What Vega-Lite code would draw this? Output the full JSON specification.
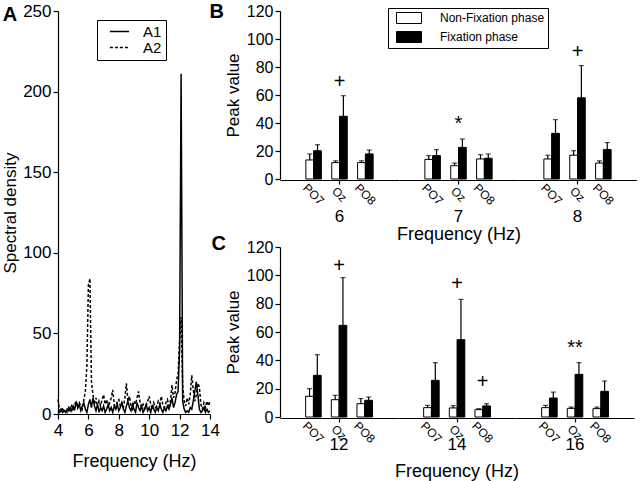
{
  "$schema": "https://vega.github.io/schema/vega-lite/v6.json",
  "padding": {"top": 2, "left": 1, "right": 0, "bottom": 0},
  "autosize": {"type": "pad"},
  "background": "white",
  "config": {
    "font": "Liberation Sans",
    "view": {"stroke": null},
    "axis": {"domainColor": "black", "tickColor": "black", "labelColor": "black", "titleColor": "black", "grid": false, "titleFontWeight": "normal", "domainWidth": 1.2, "tickWidth": 1.2, "labelFont": "Liberation Sans", "titleFont": "Liberation Sans", "labelOverlap": false},
    "legend": {"labelFont": "Liberation Sans", "labelColor": "black"},
    "title": {"font": "Liberation Sans", "color": "black"},
    "concat": {"spacing": 0}
  },
  "datasets": {
    "lineA": [
      {"f":4.0,"s":"A1","v":2},{"f":4.1,"s":"A1","v":1},{"f":4.2,"s":"A1","v":3},{"f":4.3,"s":"A1","v":1},{"f":4.4,"s":"A1","v":2},{"f":4.5,"s":"A1","v":1},{"f":4.6,"s":"A1","v":3},{"f":4.7,"s":"A1","v":2},{"f":4.8,"s":"A1","v":4},{"f":4.9,"s":"A1","v":2},
      {"f":5.0,"s":"A1","v":5},{"f":5.1,"s":"A1","v":3},{"f":5.2,"s":"A1","v":7},{"f":5.3,"s":"A1","v":4},{"f":5.4,"s":"A1","v":6},{"f":5.5,"s":"A1","v":2},{"f":5.6,"s":"A1","v":5},{"f":5.7,"s":"A1","v":7},{"f":5.8,"s":"A1","v":3},{"f":5.9,"s":"A1","v":1},
      {"f":6.0,"s":"A1","v":6},{"f":6.1,"s":"A1","v":9},{"f":6.2,"s":"A1","v":4},{"f":6.3,"s":"A1","v":10},{"f":6.4,"s":"A1","v":5},{"f":6.5,"s":"A1","v":2},{"f":6.6,"s":"A1","v":6},{"f":6.7,"s":"A1","v":1},{"f":6.8,"s":"A1","v":4},{"f":6.9,"s":"A1","v":2},
      {"f":7.0,"s":"A1","v":5},{"f":7.1,"s":"A1","v":1},{"f":7.2,"s":"A1","v":3},{"f":7.3,"s":"A1","v":6},{"f":7.4,"s":"A1","v":2},{"f":7.5,"s":"A1","v":4},{"f":7.6,"s":"A1","v":1},{"f":7.7,"s":"A1","v":5},{"f":7.8,"s":"A1","v":3},{"f":7.9,"s":"A1","v":6},
      {"f":8.0,"s":"A1","v":2},{"f":8.1,"s":"A1","v":4},{"f":8.2,"s":"A1","v":7},{"f":8.3,"s":"A1","v":3},{"f":8.4,"s":"A1","v":1},{"f":8.5,"s":"A1","v":5},{"f":8.6,"s":"A1","v":8},{"f":8.7,"s":"A1","v":4},{"f":8.8,"s":"A1","v":2},{"f":8.9,"s":"A1","v":6},
      {"f":9.0,"s":"A1","v":3},{"f":9.1,"s":"A1","v":1},{"f":9.2,"s":"A1","v":7},{"f":9.3,"s":"A1","v":4},{"f":9.4,"s":"A1","v":2},{"f":9.5,"s":"A1","v":5},{"f":9.6,"s":"A1","v":1},{"f":9.7,"s":"A1","v":3},{"f":9.8,"s":"A1","v":6},{"f":9.9,"s":"A1","v":2},
      {"f":10.0,"s":"A1","v":4},{"f":10.1,"s":"A1","v":1},{"f":10.2,"s":"A1","v":5},{"f":10.3,"s":"A1","v":3},{"f":10.4,"s":"A1","v":1},{"f":10.5,"s":"A1","v":4},{"f":10.6,"s":"A1","v":2},{"f":10.7,"s":"A1","v":6},{"f":10.8,"s":"A1","v":3},{"f":10.9,"s":"A1","v":1},
      {"f":11.0,"s":"A1","v":4},{"f":11.1,"s":"A1","v":2},{"f":11.2,"s":"A1","v":5},{"f":11.3,"s":"A1","v":3},{"f":11.4,"s":"A1","v":6},{"f":11.5,"s":"A1","v":10},{"f":11.6,"s":"A1","v":4},{"f":11.7,"s":"A1","v":7},{"f":11.8,"s":"A1","v":12},{"f":11.9,"s":"A1","v":14},
      {"f":12.0,"s":"A1","v":40},{"f":12.1,"s":"A1","v":211},{"f":12.2,"s":"A1","v":8},{"f":12.3,"s":"A1","v":3},{"f":12.4,"s":"A1","v":1},{"f":12.5,"s":"A1","v":2},{"f":12.6,"s":"A1","v":1},{"f":12.7,"s":"A1","v":4},{"f":12.8,"s":"A1","v":3},{"f":12.9,"s":"A1","v":8},
      {"f":13.0,"s":"A1","v":14},{"f":13.1,"s":"A1","v":20},{"f":13.2,"s":"A1","v":12},{"f":13.3,"s":"A1","v":3},{"f":13.4,"s":"A1","v":1},{"f":13.5,"s":"A1","v":2},{"f":13.6,"s":"A1","v":4},{"f":13.7,"s":"A1","v":1},{"f":13.8,"s":"A1","v":3},{"f":13.9,"s":"A1","v":1},
      {"f":14.0,"s":"A1","v":2},
      {"f":4.0,"s":"A2","v":9},{"f":4.1,"s":"A2","v":3},{"f":4.2,"s":"A2","v":1},{"f":4.3,"s":"A2","v":4},{"f":4.4,"s":"A2","v":2},{"f":4.5,"s":"A2","v":3},{"f":4.6,"s":"A2","v":1},{"f":4.7,"s":"A2","v":4},{"f":4.8,"s":"A2","v":2},{"f":4.9,"s":"A2","v":5},
      {"f":5.0,"s":"A2","v":3},{"f":5.1,"s":"A2","v":6},{"f":5.2,"s":"A2","v":8},{"f":5.3,"s":"A2","v":4},{"f":5.4,"s":"A2","v":7},{"f":5.5,"s":"A2","v":5},{"f":5.6,"s":"A2","v":3},{"f":5.7,"s":"A2","v":9},{"f":5.8,"s":"A2","v":14},{"f":5.9,"s":"A2","v":30},
      {"f":6.0,"s":"A2","v":80},{"f":6.1,"s":"A2","v":84},{"f":6.2,"s":"A2","v":20},{"f":6.3,"s":"A2","v":12},{"f":6.4,"s":"A2","v":6},{"f":6.5,"s":"A2","v":10},{"f":6.6,"s":"A2","v":4},{"f":6.7,"s":"A2","v":8},{"f":6.8,"s":"A2","v":5},{"f":6.9,"s":"A2","v":9},
      {"f":7.0,"s":"A2","v":12},{"f":7.1,"s":"A2","v":6},{"f":7.2,"s":"A2","v":9},{"f":7.3,"s":"A2","v":4},{"f":7.4,"s":"A2","v":7},{"f":7.5,"s":"A2","v":10},{"f":7.6,"s":"A2","v":15},{"f":7.7,"s":"A2","v":6},{"f":7.8,"s":"A2","v":3},{"f":7.9,"s":"A2","v":8},
      {"f":8.0,"s":"A2","v":9},{"f":8.1,"s":"A2","v":5},{"f":8.2,"s":"A2","v":7},{"f":8.3,"s":"A2","v":4},{"f":8.4,"s":"A2","v":10},{"f":8.5,"s":"A2","v":19},{"f":8.6,"s":"A2","v":8},{"f":8.7,"s":"A2","v":11},{"f":8.8,"s":"A2","v":5},{"f":8.9,"s":"A2","v":3},
      {"f":9.0,"s":"A2","v":8},{"f":9.1,"s":"A2","v":6},{"f":9.2,"s":"A2","v":10},{"f":9.3,"s":"A2","v":14},{"f":9.4,"s":"A2","v":7},{"f":9.5,"s":"A2","v":4},{"f":9.6,"s":"A2","v":6},{"f":9.7,"s":"A2","v":3},{"f":9.8,"s":"A2","v":5},{"f":9.9,"s":"A2","v":8},
      {"f":10.0,"s":"A2","v":11},{"f":10.1,"s":"A2","v":6},{"f":10.2,"s":"A2","v":3},{"f":10.3,"s":"A2","v":7},{"f":10.4,"s":"A2","v":4},{"f":10.5,"s":"A2","v":5},{"f":10.6,"s":"A2","v":8},{"f":10.7,"s":"A2","v":6},{"f":10.8,"s":"A2","v":11},{"f":10.9,"s":"A2","v":5},
      {"f":11.0,"s":"A2","v":4},{"f":11.1,"s":"A2","v":7},{"f":11.2,"s":"A2","v":9},{"f":11.3,"s":"A2","v":5},{"f":11.4,"s":"A2","v":8},{"f":11.5,"s":"A2","v":18},{"f":11.6,"s":"A2","v":10},{"f":11.7,"s":"A2","v":13},{"f":11.8,"s":"A2","v":21},{"f":11.9,"s":"A2","v":25},
      {"f":12.0,"s":"A2","v":45},{"f":12.1,"s":"A2","v":60},{"f":12.2,"s":"A2","v":18},{"f":12.3,"s":"A2","v":8},{"f":12.4,"s":"A2","v":5},{"f":12.5,"s":"A2","v":10},{"f":12.6,"s":"A2","v":6},{"f":12.7,"s":"A2","v":12},{"f":12.8,"s":"A2","v":24},{"f":12.9,"s":"A2","v":15},
      {"f":13.0,"s":"A2","v":8},{"f":13.1,"s":"A2","v":12},{"f":13.2,"s":"A2","v":19},{"f":13.3,"s":"A2","v":17},{"f":13.4,"s":"A2","v":6},{"f":13.5,"s":"A2","v":3},{"f":13.6,"s":"A2","v":7},{"f":13.7,"s":"A2","v":4},{"f":13.8,"s":"A2","v":8},{"f":13.9,"s":"A2","v":5},
      {"f":14.0,"s":"A2","v":8}
    ],
    "peakB": [
      {"freq":6,"electrode":"PO7","phase":"Non-Fixation phase","value":13.6,"upper":17.9},
      {"freq":6,"electrode":"PO7","phase":"Fixation phase","value":20.2,"upper":24.5},
      {"freq":6,"electrode":"Oz","phase":"Non-Fixation phase","value":11.7,"upper":13},
      {"freq":6,"electrode":"Oz","phase":"Fixation phase","value":44.8,"upper":59.5,"sig":"+","sigY":69},
      {"freq":6,"electrode":"PO8","phase":"Non-Fixation phase","value":11.7,"upper":13},
      {"freq":6,"electrode":"PO8","phase":"Fixation phase","value":17.9,"upper":20.7},
      {"freq":7,"electrode":"PO7","phase":"Non-Fixation phase","value":14,"upper":16.7},
      {"freq":7,"electrode":"PO7","phase":"Fixation phase","value":16.7,"upper":21},
      {"freq":7,"electrode":"Oz","phase":"Non-Fixation phase","value":9.5,"upper":11.4},
      {"freq":7,"electrode":"Oz","phase":"Fixation phase","value":22.6,"upper":28.6,"sig":"*","sigY":39},
      {"freq":7,"electrode":"PO8","phase":"Non-Fixation phase","value":14.3,"upper":17.4},
      {"freq":7,"electrode":"PO8","phase":"Fixation phase","value":14.8,"upper":17.9},
      {"freq":8,"electrode":"PO7","phase":"Non-Fixation phase","value":14.3,"upper":17},
      {"freq":8,"electrode":"PO7","phase":"Fixation phase","value":32.6,"upper":42.4},
      {"freq":8,"electrode":"Oz","phase":"Non-Fixation phase","value":17,"upper":20.2},
      {"freq":8,"electrode":"Oz","phase":"Fixation phase","value":58,"upper":81,"sig":"+","sigY":90.5},
      {"freq":8,"electrode":"PO8","phase":"Non-Fixation phase","value":11.4,"upper":13},
      {"freq":8,"electrode":"PO8","phase":"Fixation phase","value":21,"upper":26}
    ],
    "peakC": [
      {"freq":12,"electrode":"PO7","phase":"Non-Fixation phase","value":14.6,"upper":20},
      {"freq":12,"electrode":"PO7","phase":"Fixation phase","value":29.4,"upper":44},
      {"freq":12,"electrode":"Oz","phase":"Non-Fixation phase","value":12.2,"upper":15.3},
      {"freq":12,"electrode":"Oz","phase":"Fixation phase","value":64.7,"upper":98.4,"sig":"+","sigY":106.6},
      {"freq":12,"electrode":"PO8","phase":"Non-Fixation phase","value":9.4,"upper":13},
      {"freq":12,"electrode":"PO8","phase":"Fixation phase","value":11.8,"upper":14.1},
      {"freq":14,"electrode":"PO7","phase":"Non-Fixation phase","value":6.6,"upper":8.2},
      {"freq":14,"electrode":"PO7","phase":"Fixation phase","value":25.9,"upper":38.4},
      {"freq":14,"electrode":"Oz","phase":"Non-Fixation phase","value":6.4,"upper":8},
      {"freq":14,"electrode":"Oz","phase":"Fixation phase","value":54.6,"upper":83,"sig":"+","sigY":94},
      {"freq":14,"electrode":"PO8","phase":"Non-Fixation phase","value":5.2,"upper":5.9},
      {"freq":14,"electrode":"PO8","phase":"Fixation phase","value":7.8,"upper":9.4,"sig":"+","sigY":24.7},
      {"freq":16,"electrode":"PO7","phase":"Non-Fixation phase","value":6.6,"upper":8.2},
      {"freq":16,"electrode":"PO7","phase":"Fixation phase","value":13.4,"upper":17.6},
      {"freq":16,"electrode":"Oz","phase":"Non-Fixation phase","value":6.1,"upper":7},
      {"freq":16,"electrode":"Oz","phase":"Fixation phase","value":30.1,"upper":38.4,"sig":"**","sigY":48.5},
      {"freq":16,"electrode":"PO8","phase":"Non-Fixation phase","value":5.9,"upper":7},
      {"freq":16,"electrode":"PO8","phase":"Fixation phase","value":18.1,"upper":25.4}
    ]
  },
  "hconcat": [
    {
      "data": {"name": "lineA"},
      "width": 152,
      "height": 403,
      "title": {"text": "A", "orient": "left", "anchor": "end", "frame": "group", "angle": 0, "align": "right", "baseline": "alphabetic", "fontSize": 20, "fontWeight": "bold", "offset": -30, "dy": 10},
      "mark": {"type": "line", "color": "black", "strokeWidth": 1.5},
      "encoding": {
        "x": {"field": "f", "type": "quantitative", "scale": {"domain": [4, 14]}, "axis": {"values": [4, 6, 8, 10, 12, 14], "title": "Frequency (Hz)", "labelFontSize": 17, "titleFontSize": 18, "tickSize": 5, "labelPadding": 3, "titlePadding": 14, "labelFlush": false}},
        "y": {"field": "v", "type": "quantitative", "scale": {"domain": [0, 250]}, "axis": {"values": [0, 50, 100, 150, 200, 250], "title": "Spectral density", "labelFontSize": 17, "titleFontSize": 17, "tickSize": 5, "labelPadding": 2, "titlePadding": 3}},
        "strokeDash": {"field": "s", "type": "nominal", "scale": {"domain": ["A1", "A2"], "range": [[1, 0], [3, 2]]},
          "legend": {"title": null, "orient": "none", "legendX": 39, "legendY": 9, "strokeColor": "black", "padding": 4, "labelFontSize": 15, "symbolType": "M-1.6,0H1.6", "symbolSize": 144, "symbolStrokeColor": "black", "symbolStrokeWidth": 1.5, "symbolOffset": 11, "rowPadding": 0, "labelOffset": 16}}
      }
    },
    {
      "vconcat": [
        {
          "data": {"name": "peakB"},
          "title": {"text": "B", "orient": "left", "anchor": "end", "frame": "group", "angle": 0, "align": "right", "baseline": "alphabetic", "fontSize": 20, "fontWeight": "bold", "offset": -14, "dy": 7},
          "facet": {"column": {"field": "freq", "type": "ordinal", "sort": [6, 7, 8], "title": "Frequency (Hz)",
            "header": {"labelOrient": "bottom", "titleOrient": "bottom", "labelFontSize": 17, "titleFontSize": 18, "titleFontWeight": "normal", "labelColor": "black", "titleColor": "black", "labelPadding": 2, "titlePadding": -9}}},
          "spacing": 0,
          "spec": {
            "width": 119,
            "height": 168,
            "encoding": {
              "x": {"field": "electrode", "type": "nominal", "sort": ["PO7", "Oz", "PO8"], "scale": {"paddingInner": 0.4, "paddingOuter": 1.2},
                "axis": {"title": null, "labelAngle": 45, "labelAlign": "center", "labelBaseline": "middle", "labelFontSize": 12, "labelPadding": 10, "tickSize": 4, "tickColor": {"condition": {"test": "datum.value === 'Oz'", "value": "black"}, "value": "transparent"}}}
            },
            "layer": [
              {
                "mark": {"type": "bar", "stroke": "black", "strokeWidth": 1},
                "encoding": {
                  "xOffset": {"field": "phase", "type": "nominal", "sort": ["Non-Fixation phase", "Fixation phase"]},
                  "y": {"field": "value", "type": "quantitative", "scale": {"domain": [0, 120]}, "axis": {"values": [0, 20, 40, 60, 80, 100, 120], "title": "Peak value", "labelFontSize": 16, "titleFontSize": 17, "tickSize": 5, "labelPadding": 2, "titlePadding": 4, "labelOverlap": false}},
                  "fill": {"field": "phase", "type": "nominal", "scale": {"domain": ["Non-Fixation phase", "Fixation phase"], "range": ["white", "black"]},
                    "legend": {"title": null, "orient": "none", "legendX": 108, "legendY": -3, "strokeColor": "black", "padding": 3, "labelFontSize": 12, "symbolType": "M-2,-0.88H2V0.88H-2Z", "symbolSize": 156, "symbolStrokeColor": "black", "symbolStrokeWidth": 1, "symbolOffset": 11, "rowPadding": 3, "labelOffset": 24}}
                }
              },
              {
                "mark": {"type": "rule", "color": "black", "strokeWidth": 1.2},
                "encoding": {
                  "xOffset": {"field": "phase", "type": "nominal", "sort": ["Non-Fixation phase", "Fixation phase"]},
                  "y": {"field": "value", "type": "quantitative", "scale": {"domain": [0, 120]}, "axis": {"values": [0, 20, 40, 60, 80, 100, 120], "title": "Peak value", "labelFontSize": 16, "titleFontSize": 17, "tickSize": 5, "labelPadding": 2, "titlePadding": 4, "labelOverlap": false}},
                  "y2": {"field": "upper"}
                }
              },
              {
                "mark": {"type": "tick", "orient": "horizontal", "color": "black", "size": 5, "thickness": 1.2},
                "encoding": {
                  "xOffset": {"field": "phase", "type": "nominal", "sort": ["Non-Fixation phase", "Fixation phase"]},
                  "y": {"field": "upper", "type": "quantitative", "scale": {"domain": [0, 120]}, "axis": {"values": [0, 20, 40, 60, 80, 100, 120], "title": "Peak value", "labelFontSize": 16, "titleFontSize": 17, "tickSize": 5, "labelPadding": 2, "titlePadding": 4, "labelOverlap": false}}
                }
              },
              {
                "transform": [{"filter": "isValid(datum.sig)"}],
                "mark": {"type": "text", "fontSize": 20, "color": "black", "baseline": "middle", "font": "Liberation Sans"},
                "encoding": {
                  "y": {"field": "sigY", "type": "quantitative", "scale": {"domain": [0, 120]}, "axis": {"values": [0, 20, 40, 60, 80, 100, 120], "title": "Peak value", "labelFontSize": 16, "titleFontSize": 17, "tickSize": 5, "labelPadding": 2, "titlePadding": 4, "labelOverlap": false}},
                  "text": {"field": "sig"}
                }
              }
            ]
          }
        },
        {
          "data": {"name": "peakC"},
          "title": {"text": "C", "orient": "left", "anchor": "end", "frame": "group", "angle": 0, "align": "right", "baseline": "alphabetic", "fontSize": 20, "fontWeight": "bold", "offset": -16, "dy": 3},
          "facet": {"column": {"field": "freq", "type": "ordinal", "sort": [12, 14, 16], "title": "Frequency (Hz)",
            "header": {"labelOrient": "bottom", "titleOrient": "bottom", "labelFontSize": 17, "titleFontSize": 18, "titleFontWeight": "normal", "labelColor": "black", "titleColor": "black", "labelPadding": -8, "titlePadding": 0}}},
          "spacing": 0,
          "spec": {
            "width": 118,
            "height": 170,
            "encoding": {
              "x": {"field": "electrode", "type": "nominal", "sort": ["PO7", "Oz", "PO8"], "scale": {"paddingInner": 0.4, "paddingOuter": 1.2},
                "axis": {"title": null, "labelAngle": 45, "labelAlign": "center", "labelBaseline": "middle", "labelFontSize": 12, "labelPadding": 10, "tickSize": 4, "tickColor": {"condition": {"test": "datum.value === 'Oz'", "value": "black"}, "value": "transparent"}}}
            },
            "layer": [
              {
                "mark": {"type": "bar", "stroke": "black", "strokeWidth": 1},
                "encoding": {
                  "xOffset": {"field": "phase", "type": "nominal", "sort": ["Non-Fixation phase", "Fixation phase"]},
                  "y": {"field": "value", "type": "quantitative", "scale": {"domain": [0, 120]}, "axis": {"values": [0, 20, 40, 60, 80, 100, 120], "title": "Peak value", "labelFontSize": 16, "titleFontSize": 17, "tickSize": 5, "labelPadding": 2, "titlePadding": 4, "labelOverlap": false}},
                  "fill": {"field": "phase", "type": "nominal", "scale": {"domain": ["Non-Fixation phase", "Fixation phase"], "range": ["white", "black"]}, "legend": null}
                }
              },
              {
                "mark": {"type": "rule", "color": "black", "strokeWidth": 1.2},
                "encoding": {
                  "xOffset": {"field": "phase", "type": "nominal", "sort": ["Non-Fixation phase", "Fixation phase"]},
                  "y": {"field": "value", "type": "quantitative", "scale": {"domain": [0, 120]}, "axis": {"values": [0, 20, 40, 60, 80, 100, 120], "title": "Peak value", "labelFontSize": 16, "titleFontSize": 17, "tickSize": 5, "labelPadding": 2, "titlePadding": 4, "labelOverlap": false}},
                  "y2": {"field": "upper"}
                }
              },
              {
                "mark": {"type": "tick", "orient": "horizontal", "color": "black", "size": 5, "thickness": 1.2},
                "encoding": {
                  "xOffset": {"field": "phase", "type": "nominal", "sort": ["Non-Fixation phase", "Fixation phase"]},
                  "y": {"field": "upper", "type": "quantitative", "scale": {"domain": [0, 120]}, "axis": {"values": [0, 20, 40, 60, 80, 100, 120], "title": "Peak value", "labelFontSize": 16, "titleFontSize": 17, "tickSize": 5, "labelPadding": 2, "titlePadding": 4, "labelOverlap": false}}
                }
              },
              {
                "transform": [{"filter": "isValid(datum.sig)"}],
                "mark": {"type": "text", "fontSize": 20, "color": "black", "baseline": "middle", "font": "Liberation Sans"},
                "encoding": {
                  "y": {"field": "sigY", "type": "quantitative", "scale": {"domain": [0, 120]}, "axis": {"values": [0, 20, 40, 60, 80, 100, 120], "title": "Peak value", "labelFontSize": 16, "titleFontSize": 17, "tickSize": 5, "labelPadding": 2, "titlePadding": 4, "labelOverlap": false}},
                  "text": {"field": "sig"}
                }
              }
            ]
          }
        }
      ],
      "spacing": -10,
      "resolve": {"scale": {"fill": "independent"}, "legend": {"fill": "independent"}}
    }
  ],
  "spacing": -11
}
